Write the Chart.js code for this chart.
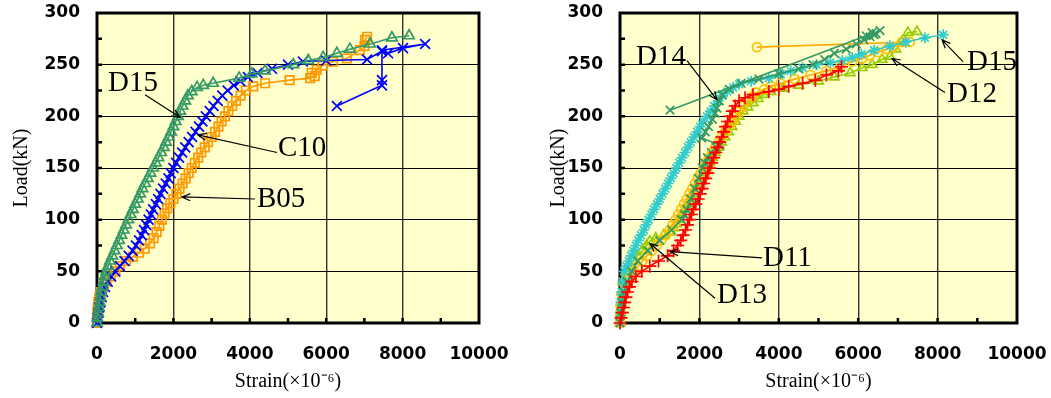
<!DOCTYPE html>
<html>
<head>
<meta charset="utf-8">
<script src="https://cdn.jsdelivr.net/npm/chart.js@4.4.0/dist/chart.umd.min.js"></script>
<style>
    html, body { margin: 0; padding: 0; background: #fff; }
    #wrap { position: relative; width: 1051px; height: 398px; }
    canvas { position: absolute; top: 0; }
    #left { left: 0; }
    #right { left: 525px; }
</style>
</head>
<body>
<div id="wrap">
    <canvas id="left" width="525" height="398"></canvas>
    <canvas id="right" width="526" height="398"></canvas>
</div>
<script>
// ---------- Data: [strain (x10^-6), load (kN)] ----------
const xTicks = [0, 2000, 4000, 6000, 8000, 10000];
const yTicks = [0, 50, 100, 150, 200, 250, 300];

// left panel
const leftB05 = [[0,0],[0,5],[10,10],[20,15],[30,20],[60,25],[100,30],[160,35],[250,40],[360,45],[480,50],[600,55],[760,60],[940,64],[1100,68],[1250,72],[1390,77],[1480,82],[1560,88],[1630,94],[1700,100],[1770,106],[1840,111],[1920,116],[2000,120],[2080,125],[2160,130],[2240,135],[2320,140],[2400,145],[2480,150],[2560,155],[2650,160],[2730,165],[2820,170],[2910,175],[3000,180],[3090,185],[3180,190],[3260,195],[3350,200],[3440,205],[3540,210],[3640,215],[3760,220],[3900,225],[4090,229],[4400,232],[5040,235],[5580,237],[5700,239],[5620,242],[5750,245],[5900,249],[6180,253],[6540,256],[6880,264],[7000,268],[7020,274],[7070,277]];
const leftC10 = [[0,0],[20,5],[40,10],[60,15],[90,20],[120,25],[160,30],[210,35],[280,40],[370,45],[480,50],[600,55],[720,60],[830,65],[930,70],[1020,75],[1100,80],[1170,85],[1230,90],[1290,95],[1350,100],[1410,105],[1470,110],[1540,115],[1600,120],[1660,125],[1730,130],[1800,135],[1870,140],[1930,145],[2000,150],[2070,155],[2150,160],[2230,165],[2310,170],[2400,175],[2490,180],[2580,185],[2670,190],[2760,195],[2850,200],[2950,205],[3050,210],[3160,215],[3280,220],[3420,225],[3580,230],[3750,234],[3950,238],[4200,242],[4580,246],[5000,250],[5390,253],[6000,254],[7070,255],[7460,263],[7620,261],[8010,266],[8590,270],[7460,264],[7460,235],[7460,230],[6280,210]];
const leftD15 = [[0,0],[10,5],[30,10],[50,15],[70,20],[90,25],[110,30],[140,35],[170,40],[200,45],[240,50],[290,55],[340,60],[400,65],[460,70],[520,75],[580,80],[640,85],[700,90],[760,95],[820,100],[880,105],[940,110],[1000,115],[1070,120],[1130,125],[1190,130],[1260,135],[1330,140],[1400,145],[1470,150],[1540,155],[1610,160],[1680,165],[1750,170],[1810,175],[1880,180],[1940,185],[2000,190],[2060,195],[2120,200],[2180,205],[2240,210],[2310,215],[2380,220],[2480,224],[2620,228],[2780,230],[3040,232],[3720,237],[4050,241],[4400,244],[5140,250],[5530,254],[5920,257],[6280,261],[6620,265],[7150,270],[7720,276],[8170,278]];

// right panel
const rightD11 = [[0,0],[30,5],[60,10],[90,15],[120,20],[150,25],[190,30],[240,35],[300,40],[400,45],[550,50],[750,55],[970,60],[1200,65],[1350,70],[1450,75],[1530,80],[1590,85],[1650,90],[1700,95],[1750,100],[1800,105],[1850,110],[1910,115],[1970,120],[2020,125],[2070,130],[2110,135],[2160,140],[2210,145],[2260,150],[2310,155],[2360,160],[2410,165],[2460,170],[2510,175],[2560,180],[2610,185],[2660,190],[2710,195],[2770,200],[2830,205],[2900,210],[3000,215],[3150,218],[3350,221],[3750,224],[4000,226],[4250,229],[4600,232],[4920,235],[5200,240],[5500,244],[5580,248]];
const rightD12 = [[0,0],[5,5],[10,10],[20,15],[40,20],[60,25],[90,30],[130,35],[190,40],[260,45],[350,50],[450,55],[560,60],[680,65],[800,70],[920,75],[1040,80],[1150,85],[1250,90],[1330,95],[1400,100],[1470,105],[1540,110],[1610,115],[1680,120],[1750,125],[1820,130],[1890,135],[1960,140],[2030,145],[2100,150],[2170,155],[2240,160],[2320,165],[2400,170],[2480,175],[2560,180],[2650,185],[2740,190],[2830,195],[2920,200],[3010,205],[3110,210],[3220,215],[3330,219],[3420,223],[3630,226],[3800,229],[4050,232],[4400,236],[4800,240],[5200,244],[5550,248],[5850,253],[6100,256],[6300,259],[6500,262],[6720,265],[6880,267],[7100,272],[7300,272],[3450,267]];
const rightD13 = [[0,0],[10,10],[20,20],[40,30],[70,40],[140,50],[220,55],[330,60],[440,65],[560,70],[670,75],[750,79],[900,82],[1100,85],[1250,88],[1350,92],[1420,96],[1490,100],[1560,105],[1630,110],[1700,115],[1770,120],[1840,125],[1910,130],[1980,135],[2050,140],[2120,145],[2190,150],[2260,155],[2330,160],[2400,165],[2480,170],[2560,175],[2640,180],[2730,185],[2820,190],[2910,195],[3000,200],[3100,205],[3220,209],[3350,213],[3480,217],[3620,221],[3800,224],[4100,227],[4500,230],[5000,234],[5400,238],[5800,242],[6100,247],[6350,250],[6600,255],[6800,258],[6950,265],[7100,272],[7250,281],[7480,282]];
const rightD14 = [[0,0],[20,10],[50,20],[100,30],[180,40],[300,50],[450,60],[700,70],[1000,80],[1300,90],[1550,100],[1620,105],[1680,110],[1780,120],[1880,130],[1970,140],[2070,150],[2130,155],[2200,160],[2300,165],[2420,170],[2520,172],[2060,179],[2150,185],[2230,190],[2330,197],[2400,203],[2440,208],[2500,215],[2580,221],[2750,226],[3050,232],[3500,236],[4000,241],[4500,246],[4860,250],[5150,255],[5400,261],[5700,265],[5950,270],[6150,274],[6300,277],[6450,280],[6550,283],[6400,279],[6350,281],[6200,278],[1260,206]];
const rightD15 = [[0,0],[10,10],[20,20],[40,30],[70,40],[110,50],[160,55],[220,60],[280,65],[340,70],[400,75],[460,80],[530,85],[600,90],[660,95],[720,100],[790,105],[860,110],[930,115],[1000,120],[1070,125],[1140,130],[1210,135],[1280,140],[1350,145],[1420,150],[1490,155],[1560,160],[1640,165],[1710,170],[1780,175],[1860,180],[1940,185],[2020,190],[2100,195],[2190,200],[2280,205],[2370,210],[2470,215],[2570,220],[2700,224],[2850,228],[3000,231],[3300,234],[3750,237],[4050,241],[4300,244],[4600,247],[4950,250],[5300,252],[5600,254],[5850,257],[6080,260],[6400,264],[6800,268],[7200,272],[7680,276],[8140,279]];

// ---------- Helpers ----------
const toXY = (pairs) => pairs.map(([x, y]) => ({ x, y }));

function series(label, pairs, color, style, radius, pointColor) {
    return {
        label,
        data: toXY(pairs),
        showLine: true,
        borderColor: color,
        backgroundColor: 'transparent',
        borderWidth: 1.6,
        pointStyle: style,
        pointRadius: radius,
        pointBorderColor: pointColor || color,
        pointBackgroundColor: 'transparent',
        pointBorderWidth: 1.7,
        clip: false
    };
}

// background, thick frame and inner minor ticks
const framePlugin = {
    id: 'frame',
    beforeDraw(chart) {
        const { ctx, chartArea: a } = chart;
        ctx.save();
        ctx.fillStyle = '#FFFFCC';
        ctx.fillRect(a.left, a.top, a.right - a.left, a.bottom - a.top);
        ctx.restore();
    },
    beforeDatasetsDraw(chart) {
        const { ctx, chartArea: a, scales } = chart;
        ctx.save();
        ctx.strokeStyle = '#000';
        ctx.lineWidth = 3;
        ctx.strokeRect(a.left, a.top, a.right - a.left, a.bottom - a.top);
        ctx.lineWidth = 2.5;
        ctx.beginPath();
        for (let v = 25; v < 300; v += 25) {
            const py = scales.y.getPixelForValue(v);
            ctx.moveTo(a.left, py);
            ctx.lineTo(a.left + 5, py);
        }
        for (let v = 1000; v < 10000; v += 1000) {
            const px = scales.x.getPixelForValue(v);
            ctx.moveTo(px, a.bottom);
            ctx.lineTo(px, a.bottom - 5);
        }
        ctx.stroke();
        ctx.restore();
    }
};

// text labels with arrows (data coordinates)
const notesPlugin = {
    id: 'notes',
    afterDatasetsDraw(chart, args, opts) {
        const { ctx, scales } = chart;
        const X = (v) => scales.x.getPixelForValue(v);
        const Y = (v) => scales.y.getPixelForValue(v);
        ctx.save();
        ctx.fillStyle = '#000';
        ctx.strokeStyle = '#000';
        ctx.font = '29px "Liberation Serif", "Times New Roman", serif';
        ctx.textAlign = 'left';
        ctx.textBaseline = 'middle';
        (opts.items || []).forEach(n => {
            ctx.fillText(n.text, X(n.at[0]), Y(n.at[1]));
            const x1 = X(n.from[0]), y1 = Y(n.from[1]);
            const x2 = X(n.to[0]), y2 = Y(n.to[1]);
            ctx.lineWidth = 1.2;
            ctx.beginPath();
            ctx.moveTo(x1, y1);
            ctx.lineTo(x2, y2);
            const ang = Math.atan2(y1 - y2, x1 - x2);
            const len = 9, spread = 0.4;
            ctx.moveTo(x2 + len * Math.cos(ang + spread), y2 + len * Math.sin(ang + spread));
            ctx.lineTo(x2, y2);
            ctx.lineTo(x2 + len * Math.cos(ang - spread), y2 + len * Math.sin(ang - spread));
            ctx.stroke();
        });
        ctx.restore();
    }
};

function makeOptions(yAxisWidth, rightPad, yTitlePad, notes) {
    const tickFont = { family: '"DejaVu Sans", sans-serif', weight: 'bold', size: 17 };
    const titleFont = { family: '"Liberation Serif", "Times New Roman", serif', size: 20 };
    return {
        responsive: false,
        animation: false,
        devicePixelRatio: 1,
        layout: { padding: { top: 13, right: rightPad, left: 0, bottom: 0 } },
        plugins: {
            legend: { display: false },
            tooltip: { enabled: false },
            notes: { items: notes }
        },
        scales: {
            x: {
                type: 'linear',
                min: 0, max: 10000,
                afterBuildTicks: (s) => { s.ticks = xTicks.map(v => ({ value: v })); },
                afterFit: (s) => { s.height = 75; s.paddingLeft = 0; s.paddingRight = 0; },
                ticks: { font: tickFont, color: '#000', padding: 21, maxRotation: 0, callback: (v) => String(v) },
                grid: { color: '#333', lineWidth: 1.4, drawTicks: false },
                border: { display: false },
                title: { display: true, text: 'Strain(×10⁻⁶)', font: titleFont, color: '#000', padding: { top: 0, bottom: 4 } }
            },
            y: {
                type: 'linear',
                min: 0, max: 300,
                afterBuildTicks: (s) => { s.ticks = yTicks.map(v => ({ value: v })); },
                afterFit: (s) => { s.width = yAxisWidth; s.paddingTop = 0; s.paddingBottom = 0; },
                ticks: { font: tickFont, color: '#000', padding: 17, callback: (v) => String(v) },
                grid: { color: '#000', lineWidth: 1, drawTicks: false },
                border: { display: false },
                title: { display: true, text: 'Load(kN)', font: titleFont, color: '#000', padding: { top: yTitlePad, bottom: 0 } }
            }
        }
    };
}

// ---------- Left chart ----------
new Chart(document.getElementById('left'), {
    type: 'scatter',
    data: {
        datasets: [
            series('D15', leftD15, '#339966', 'triangle', 6),
            series('C10', leftC10, '#0000FF', 'crossRot', 7),
            series('B05', leftB05, '#FF9900', 'rect', 6)
        ]
    },
    options: makeOptions(97, 46, 10, [
        { text: 'D15', at: [290, 232], from: [1257, 221], to: [2173, 199] },
        { text: 'C10', at: [4738, 169], from: [4712, 165], to: [2644, 182] },
        { text: 'B05', at: [4188, 120], from: [4136, 120], to: [2225, 122] }
    ]),
    plugins: [framePlugin, notesPlugin]
});

// ---------- Right chart ----------
new Chart(document.getElementById('right'), {
    type: 'scatter',
    data: {
        datasets: [
            series('D11', rightD11, '#FF0000', 'cross', 6.5),
            series('D14', rightD14, '#339966', 'crossRot', 6),
            series('D15', rightD15, '#33CCCC', 'star', 5.5),
            series('D12', rightD12, '#FFAA00', 'circle', 4.5, '#FFC000'),
            series('D13', rightD13, '#99CC00', 'triangle', 5.5)
        ]
    },
    options: makeOptions(95, 34, 22, [
        { text: 'D14', at: [403, 257], from: [1688, 254], to: [2443, 216] },
        { text: 'D15', at: [8740, 252], from: [8640, 253], to: [8111, 274] },
        { text: 'D12', at: [8237, 221], from: [8186, 223], to: [6851, 256] },
        { text: 'D11', at: [3602, 63], from: [3577, 63], to: [1259, 69] },
        { text: 'D13', at: [2443, 27], from: [2393, 24], to: [756, 77] }
    ]),
    plugins: [framePlugin, notesPlugin]
});
</script>
</body>
</html>
